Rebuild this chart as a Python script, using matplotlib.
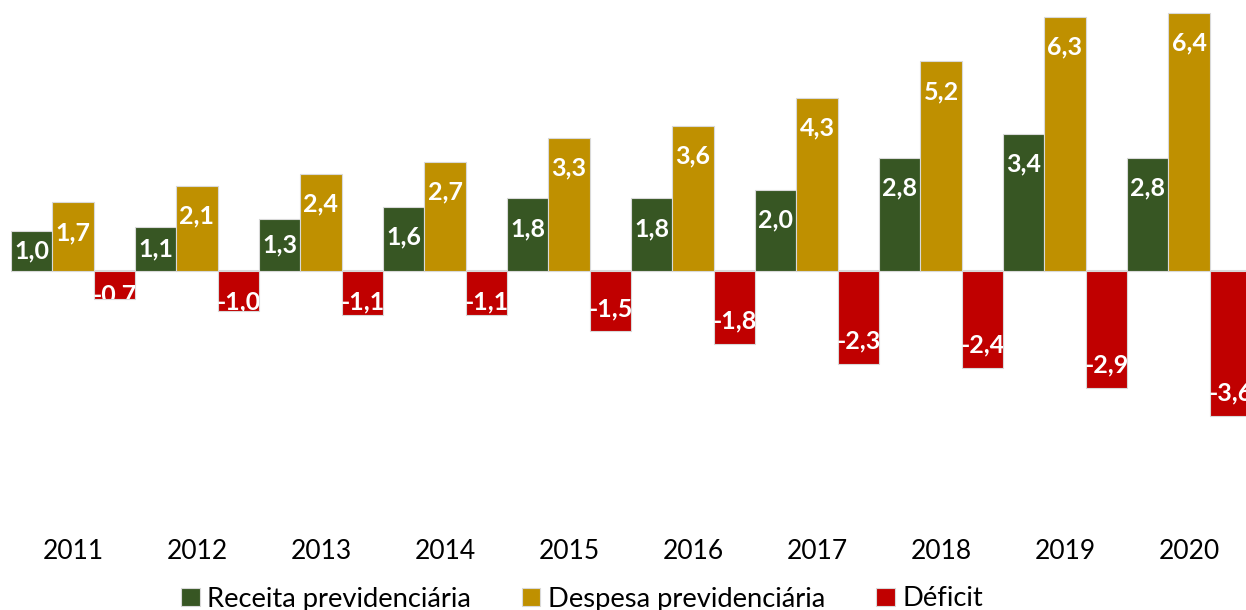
import matplotlib
matplotlib.use('Agg')
import matplotlib.pyplot as plt
import numpy as np

years = ['2011', '2012', '2013', '2014', '2015', '2016', '2017', '2018', '2019', '2020']
receita = [1.0, 1.1, 1.3, 1.6, 1.8, 1.8, 2.0, 2.8, 3.4, 2.8]
despesa = [1.7, 2.1, 2.4, 2.7, 3.3, 3.6, 4.3, 5.2, 6.3, 6.4]
deficit = [-0.7, -1.0, -1.1, -1.1, -1.5, -1.8, -2.3, -2.4, -2.9, -3.6]
receita_labels = ['1,0', '1,1', '1,3', '1,6', '1,8', '1,8', '2,0', '2,8', '3,4', '2,8']
despesa_labels = ['1,7', '2,1', '2,4', '2,7', '3,3', '3,6', '4,3', '5,2', '6,3', '6,4']
deficit_labels = ['-0.7', '-1,0', '-1,1', '-1,1', '-1,5', '-1,8', '-2,3', '-2,4', '-2,9', '-3,6']
series_names = ['Receita previdenciária', 'Despesa previdenciária', 'Déficit']
colors = ['#375623', '#BF9000', '#C00000']

plt.rcParams['font.family'] = ['Lato', 'DejaVu Sans']

W, H = 1246, 610
fig = plt.figure(figsize=(W / 100, H / 100), dpi=100)
ax = fig.add_axes([11 / W, 1 - 520 / H, (W - 11) / W, 520 / H])

PX = 40.3  # pixels per unit
ax.set_ylim(-(520 - 271) / PX, 271 / PX)
ax.set_xlim(-0.5, -0.5 + (W - 11) / 124)

x = np.arange(len(years))
bw = 1 / 3
edge = '#D9D9D9'

ax.axhline(0, color='#D9D9D9', lw=1.5, zorder=1)

b1 = ax.bar(x - bw, receita, bw, color=colors[0], edgecolor=edge, linewidth=0.8, label=series_names[0], zorder=2)
b2 = ax.bar(x, despesa, bw, color=colors[1], edgecolor=edge, linewidth=0.8, label=series_names[1], zorder=2)
b3 = ax.bar(x + bw, deficit, bw, color=colors[2], edgecolor=edge, linewidth=0.8, label=series_names[2], zorder=2)

lab_fs = 18
for bars, vals, labs in [(b1, receita, receita_labels), (b2, despesa, despesa_labels)]:
    for bar, v, lab in zip(bars, vals, labs):
        y = max(v - 30 / PX, v / 2)
        t = ax.text(bar.get_x() + bar.get_width() / 2, y, lab, ha='center', va='center',
                    color='white', fontsize=lab_fs, fontweight='bold', zorder=3, clip_on=True)
        t.set_clip_path(bar)

for bar, v, lab in zip(b3, deficit, deficit_labels):
    y = min(v + 23 / PX, max(-31 / PX, v + 4 / PX))
    t = ax.text(bar.get_x() + bar.get_width() / 2, y, lab, ha='center', va='center',
                color='white', fontsize=lab_fs, fontweight='bold', zorder=3, clip_on=True)
    t.set_clip_path(bar)

ax.set_xticks(x)
ax.set_xticklabels(years, fontsize=19, color='black')
ax.tick_params(axis='x', length=0, pad=14)
ax.set_yticks([])
for s in ax.spines.values():
    s.set_visible(False)

fig.legend(handles=[b1, b2, b3], labels=series_names, loc='center',
           bbox_to_anchor=(582 / W, 1 - 599 / H), ncol=3, frameon=False,
           fontsize=19.7, handlelength=0.68, handleheight=0.68, handletextpad=0.28,
           columnspacing=1.85, borderaxespad=0, borderpad=0)

fig.savefig('out.png', dpi=100)
